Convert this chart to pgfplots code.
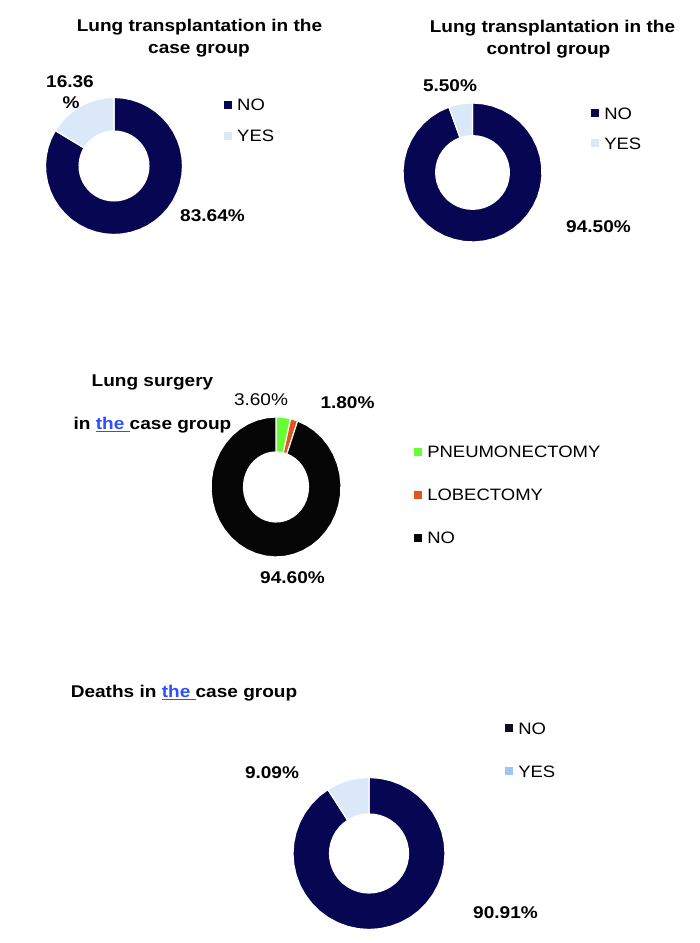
\documentclass[border=0pt]{standalone}
\usepackage{pgfplots}
\pgfplotsset{compat=1.18}
\usepackage{fontspec}
\setmainfont{Liberation Sans}[FakeStretch=1.12]
\definecolor{navyc}{RGB}{6,6,82}
\definecolor{yesc}{RGB}{218,232,247}
\definecolor{greenc}{RGB}{102,255,51}
\definecolor{orangec}{RGB}{224,86,31}
\definecolor{blackc}{RGB}{5,5,5}
\definecolor{yesleg}{RGB}{156,200,240}
\definecolor{noleg}{RGB}{15,15,30}
\definecolor{theblue}{RGB}{45,80,255}
% #1 start (percent), #2 end (percent), #3 colour, #4 inner radius ratio
\newcommand{\ringslice}[4]{%
\addplot[forget plot, fill=#3, draw=white, line width=1.2bp, variable=\s,
  samples at={0,0.025,...,0.975,0.99999,1,1.025,...,2}]
 ({((\s<1)?1:#4)*sin(3.6*((\s<1)?(#1+(#2-#1)*\s):(#2-(#2-#1)*(\s-1))))},
  {((\s<1)?1:#4)*cos(3.6*((\s<1)?(#1+(#2-#1)*\s):(#2-(#2-#1)*(\s-1))))}) -- cycle;}
\pgfplotsset{donut/.style={scale only axis, hide axis, clip=false,
  xmin=-1, xmax=1, ymin=-1, ymax=1, anchor=center,
  legend image code/.code={\path[##1, draw=none] (0bp,-4bp) rectangle (8bp,4bp); \path (13bp,0bp);},
  legend cell align=left,
  legend style={draw=none, fill=none, anchor=north west, inner sep=0pt, outer sep=0pt,
    font=\fontsize{16.5bp}{20bp}\selectfont,
    nodes={inner sep=0pt, text height=12bp, text depth=0bp}}}}
\newcommand{\tf}{\fontsize{17bp}{20bp}\selectfont\bfseries}
\newcommand{\lf}{\fontsize{17bp}{20bp}\selectfont}
\begin{document}
\begin{tikzpicture}[x=1bp, y=1bp]
\path[use as bounding box] (0,0) rectangle (700,943);
% ---------- Chart 1 ----------
\begin{axis}[donut, at={(114bp,777bp)}, width=137bp, height=137bp,
  legend style={at={(1.303,0.989)}, row sep=19bp}]
\ringslice{0}{83.64}{navyc}{0.51}
\ringslice{83.64}{100}{yesc}{0.51}
\addlegendimage{fill=navyc}\addlegendentry{NO}
\addlegendimage{fill=yesc}\addlegendentry{YES}
\end{axis}
\node[anchor=base, font=\tf] at (199.5,911) {Lung transplantation in the};
\node[anchor=base, font=\tf] at (199,889.7) {case group};
\node[anchor=base, font=\tf] at (70,855) {16.36};
\node[anchor=base, font=\tf] at (71,834) {\%};
\node[anchor=base, font=\tf] at (212.5,721) {83.64\%};
% ---------- Chart 2 ----------
\begin{axis}[donut, at={(472.5bp,770.5bp)}, width=139bp, height=139bp,
  legend style={at={(1.353,0.971)}, row sep=18bp}]
\ringslice{0}{94.50}{navyc}{0.53}
\ringslice{94.50}{100}{yesc}{0.53}
\addlegendimage{fill=navyc}\addlegendentry{NO}
\addlegendimage{fill=yesc}\addlegendentry{YES}
\end{axis}
\node[anchor=base, font=\tf] at (552.5,910) {Lung transplantation in the};
\node[anchor=base, font=\tf] at (548.5,888) {control group};
\node[anchor=base, font=\tf] at (450,851) {5.50\%};
\node[anchor=base, font=\tf] at (598.5,710) {94.50\%};
% ---------- Chart 3 ----------
\begin{axis}[donut, at={(276bp,456bp)}, width=130bp, height=140bp,
  legend style={at={(1.562,0.793)}, row sep=31bp}]
\ringslice{0}{3.60}{greenc}{0.5}
\ringslice{3.60}{5.40}{orangec}{0.5}
\ringslice{5.40}{100}{blackc}{0.5}
\addlegendimage{fill=greenc}\addlegendentry{PNEUMONECTOMY}
\addlegendimage{fill=orangec}\addlegendentry{LOBECTOMY}
\addlegendimage{fill=blackc}\addlegendentry{NO}
\end{axis}
\node[anchor=base, font=\tf] at (152.5,556.3) {Lung surgery};
\node[anchor=base, font=\tf] at (152.5,513) {in {\color{theblue}\underline{the\ }}case group};
\node[anchor=base, font=\lf] at (261,537) {3.60\%};
\node[anchor=base, font=\tf] at (347.5,534) {1.80\%};
\node[anchor=base, font=\tf] at (292.5,359) {94.60\%};
% ---------- Chart 4 ----------
\begin{axis}[donut, at={(369bp,89.5bp)}, width=152bp, height=152bp,
  legend style={at={(1.395,1.365)}, row sep=31bp}]
\ringslice{0}{90.91}{navyc}{0.52}
\ringslice{90.91}{100}{yesc}{0.52}
\addlegendimage{fill=noleg}\addlegendentry{NO}
\addlegendimage{fill=yesleg}\addlegendentry{YES}
\end{axis}
\node[anchor=base, font=\tf] at (184,245.7) {Deaths in {\color{theblue}\underline{the\ }}case group};
\node[anchor=base, font=\tf] at (272,164) {9.09\%};
\node[anchor=base, font=\tf] at (505.5,24) {90.91\%};
\end{tikzpicture}
\end{document}
